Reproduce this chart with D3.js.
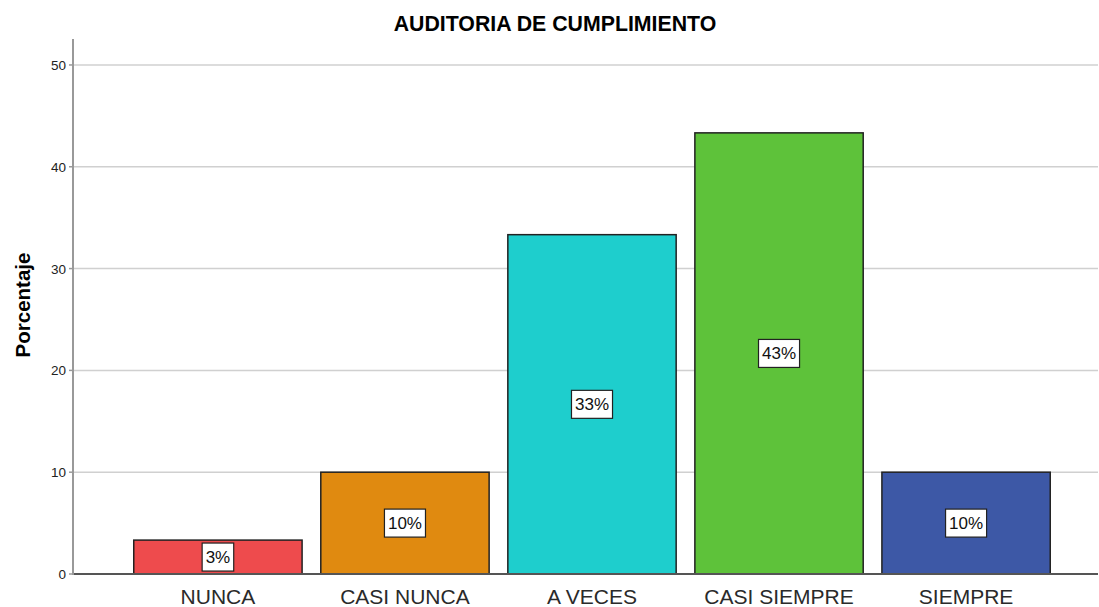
<!DOCTYPE html>
<html lang="es">
<head>
  <meta charset="UTF-8" />
  <title>Auditoria de cumplimiento</title>
  <script src="https://d3js.org/d3.v7.min.js"></script>
  <style>
    body { margin: 0; background: #fff; }
    svg { display: block; font-family: "Liberation Sans", Arial, sans-serif; }
    .grid line { stroke: #d0d0d0; stroke-width: 1.5px; }
    .cat { font-size: 21px; fill: #2a2a2a; text-anchor: middle; }
    .tick-label { font-size: 13.5px; fill: #222; text-anchor: end; }
    .pct { font-size: 17px; fill: #111; text-anchor: middle; }
  </style>
</head>
<body>
  <svg width="1099" height="607"></svg>
  <script>
    const categories = ["NUNCA", "CASI NUNCA", "A VECES", "CASI SIEMPRE", "SIEMPRE"];
    const percentages = [3.33, 10, 33.33, 43.33, 10];
    const pctLabels = ["3%", "10%", "33%", "43%", "10%"];
    const barColors = ["#ee4b4d", "#e08a10", "#1ececd", "#5ec23a", "#3d58a6"];
    const yTicks = [0, 10, 20, 30, 40, 50];

    const svg = d3.select("svg");
    const plotLeft = 73, plotRight = 1098, plotTop = 39, plotBottom = 574;

    const y = d3.scaleLinear().domain([0, 52.55]).range([plotBottom, plotTop]);
    const x = d3.scaleBand()
      .domain(categories)
      .range([plotLeft + 14, plotRight - 1])
      .paddingInner(0.1)
      .paddingOuter(0.25);

    // title
    svg.append("text")
      .attr("x", 555).attr("y", 31)
      .attr("text-anchor", "middle")
      .style("font-size", "21.3px").style("font-weight", "bold")
      .text("AUDITORIA DE CUMPLIMIENTO");

    // y label
    svg.append("text")
      .attr("transform", "translate(30,305) rotate(-90)")
      .attr("text-anchor", "middle")
      .style("font-size", "20.5px").style("font-weight", "bold")
      .text("Porcentaje");

    // grid
    const grid = svg.append("g").attr("class", "grid");
    grid.selectAll("line").data(yTicks.filter(d => d > 0)).join("line")
      .attr("x1", plotLeft).attr("x2", plotRight)
      .attr("y1", d => y(d)).attr("y2", d => y(d));

    // tick labels + small ticks
    svg.selectAll(".tick-label").data(yTicks).join("text")
      .attr("class", "tick-label")
      .attr("x", plotLeft - 7).attr("y", d => y(d) + 5)
      .text(d => d);
    svg.selectAll(".tk").data(yTicks).join("line")
      .attr("class", "tk")
      .attr("x1", plotLeft - 4).attr("x2", plotLeft)
      .attr("y1", d => y(d)).attr("y2", d => y(d))
      .attr("stroke", "#999").attr("stroke-width", 1.5);

    // bars
    svg.selectAll(".bar").data(categories).join("rect")
      .attr("class", "bar")
      .attr("x", d => x(d))
      .attr("y", (d, i) => y(percentages[i]))
      .attr("width", x.bandwidth())
      .attr("height", (d, i) => y(0) - y(percentages[i]))
      .attr("fill", (d, i) => barColors[i])
      .attr("stroke", "#222").attr("stroke-width", 1.5);

    // axes lines
    svg.append("line")
      .attr("x1", plotLeft).attr("x2", plotRight).attr("y1", plotBottom).attr("y2", plotBottom)
      .attr("stroke", "#555").attr("stroke-width", 2);
    svg.append("line")
      .attr("x1", plotLeft).attr("x2", plotLeft).attr("y1", plotTop).attr("y2", plotBottom + 1)
      .attr("stroke", "#999").attr("stroke-width", 2);

    // value labels in white boxes
    categories.forEach((c, i) => {
      const cx = x(c) + x.bandwidth() / 2;
      const cy = (y(percentages[i]) + y(0)) / 2;
      const g = svg.append("g");
      const t = g.append("text").attr("class", "pct")
        .attr("x", cx).attr("y", cy + 6).text(pctLabels[i]);
      const w = t.node().getComputedTextLength() + 7;
      g.insert("rect", "text")
        .attr("x", cx - w / 2).attr("y", cy - 14)
        .attr("width", w).attr("height", 28)
        .attr("fill", "#fff").attr("stroke", "#222").attr("stroke-width", 1.2);
    });

    // category labels
    svg.selectAll(".cat").data(categories).join("text")
      .attr("class", "cat")
      .attr("x", d => x(d) + x.bandwidth() / 2)
      .attr("y", 604)
      .text(d => d);
  </script>
</body>
</html>
